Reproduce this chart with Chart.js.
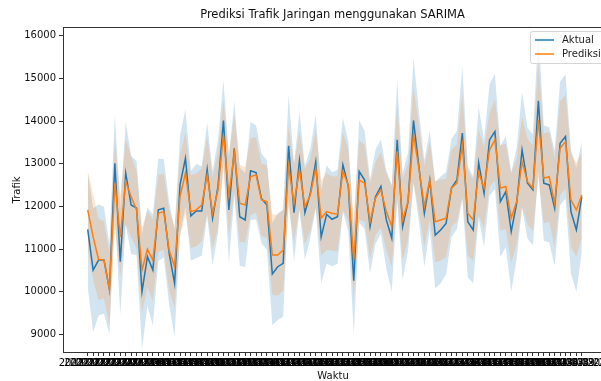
<!DOCTYPE html>
<html>
<head>
<meta charset="utf-8">
<script src="https://cdn.jsdelivr.net/npm/chart.js@4"></script>
<style>
  html, body { margin: 0; padding: 0; background: #fff; overflow: hidden; }
  #wrap { width: 601px; height: 381px; overflow: hidden; }
</style>
</head>
<body>
<div id="wrap"><canvas id="chart" width="612" height="381"></canvas></div>
<script>
// data
const startDate = "2022-12-21";
const aktual = [11465,10510,10745,10745,10060,13010,10705,12780,12035,11960,
  10005,10825,10510,11920,11960,10900,10200,12505,13130,11780,
  11895,11895,12870,11725,12470,14015,11920,13365,11760,11685,
  12835,12795,12190,12035,10420,10590,10670,13420,11855,13075,
  11855,12310,13050,11290,11815,11700,11760,12975,12470,10260,
  12820,12620,11530,12230,12470,11685,11255,13560,11530,12115,
  14015,12935,11840,12620,11330,11450,11605,12430,12620,13720,
  11645,11450,13030,12310,13560,13755,12115,12350,11410,12075,
  13325,12545,12390,14475,12545,12505,11960,13480,13640,11880,
  11450,12230];
const prediksi = [11920,11290,10760,10750,10060,12545,11290,12580,12230,11920,
  10510,11000,10745,11840,11880,10980,10590,12230,12780,11880,
  11920,12035,12740,11840,12390,13680,12270,13250,12075,12035,
  12700,12740,12155,12115,10865,10865,10980,12935,12075,12855,
  12000,12270,12895,11725,11880,11840,11820,12820,12505,10745,
  12620,12545,11645,12190,12390,11880,11530,13290,11685,12115,
  13680,12895,12000,12620,11645,11685,11725,12430,12545,13445,
  11840,11685,12795,12430,13325,13560,12430,12470,11725,12115,
  13050,12580,12430,14030,12660,12700,12075,13365,13520,12155,
  11920,12270];
// half width of the shaded confidence bands
const aktualCI = [1350,1450,1300,1250,1050,1150,1250,1200,1150,1100,
  1350,1150,1300,1200,1150,1200,1250,1150,1150,1050,
  1100,1050,1100,1100,1100,950,1250,1100,1150,1100,
  1150,1100,1050,1050,1200,1250,1250,1200,1150,1150,
  1100,1050,1100,1100,1150,1100,1100,1100,1050,1250,
  1200,1150,1100,1100,1100,1150,1250,1400,1250,1150,
  1450,1300,1250,1150,1250,1250,1200,1150,1150,1550,
  1300,1250,1300,1250,1300,1350,1300,1300,1400,1300,
  1350,1300,1300,1650,1350,1350,1350,1450,1450,1450,
  1450,1300];
const prediksiCI = [920,1000,950,900,850,1050,950,1000,950,900,
  1000,900,950,900,900,950,950,950,950,850,
  850,850,900,850,900,820,950,900,900,880,
  900,880,850,850,940,950,950,950,900,920,
  880,850,900,880,900,870,880,900,850,940,
  930,900,880,860,880,900,950,1100,950,900,
  1130,1000,950,900,950,950,920,900,900,1210,
  1000,950,1000,950,860,950,1000,1000,1050,1000,
  1050,1000,1000,1350,1050,1050,1050,1100,1100,1100,
  1100,1000];
const yTicks = [9000,10000,11000,12000,13000,14000,15000,16000];

// one date label per point
const dates = [];
const d0 = new Date(startDate + "T00:00:00Z");
for (let i = 0; i < aktual.length; i++) {
  const d = new Date(d0.getTime() + i * 86400000);
  dates.push(d.toISOString().slice(0, 10));
}

const BLUE = "#1f77b4";
const ORANGE = "#ff7f0e";
const FONT = "'DejaVu Sans', sans-serif";

const pts = arr => arr.map((v, i) => ({ x: i, y: v }));
const band = (arr, hw, sign) => arr.map((v, i) => ({ x: i, y: v + sign * hw[i] }));

// title, axis titles, frame and legend drawn like matplotlib
const extras = {
  id: "extras",
  afterDraw(chart) {
    const { ctx, chartArea: a } = chart;
    ctx.save();
    ctx.strokeStyle = "#333";
    ctx.lineWidth = 1;
    ctx.strokeRect(Math.round(a.left) + 0.5, Math.round(a.top) + 0.5,
      Math.round(a.right - a.left), Math.round(a.bottom - a.top));

    ctx.fillStyle = "#111";
    ctx.textAlign = "center";
    ctx.textBaseline = "middle";
    ctx.font = "11.5px " + FONT;
    ctx.fillText("Prediksi Trafik Jaringan menggunakan SARIMA", 332.5, 15);
    ctx.font = "10px " + FONT;
    ctx.fillText("Waktu", 333, 376);
    ctx.translate(17, 190);
    ctx.rotate(-Math.PI / 2);
    ctx.fillText("Trafik", 0, 0);
    ctx.setTransform(1, 0, 0, 1, 0, 0);

    // legend
    const bx = 530.5, by = 31.5, bw = 82, bh = 32;
    ctx.fillStyle = "rgba(255,255,255,0.8)";
    ctx.strokeStyle = "#d5d5d5";
    ctx.beginPath();
    ctx.roundRect(bx, by, bw, bh, 2);
    ctx.fill();
    ctx.stroke();
    const items = [["Aktual", BLUE, 40], ["Prediksi", ORANGE, 54]];
    ctx.lineWidth = 1.5;
    ctx.textAlign = "left";
    for (const [label, col, y] of items) {
      ctx.strokeStyle = col;
      ctx.beginPath();
      ctx.moveTo(535, y);
      ctx.lineTo(554, y);
      ctx.stroke();
      ctx.fillStyle = "#222";
      ctx.fillText(label, 562, y);
    }
    ctx.restore();
  }
};

new Chart(document.getElementById("chart"), {
  type: "line",
  data: {
    datasets: [
      { label: "Prediksi", data: pts(prediksi), borderColor: ORANGE, borderWidth: 1.5, order: 0 },
      { label: "Aktual", data: pts(aktual), borderColor: BLUE, borderWidth: 1.5, order: 1 },
      { label: "p_lo", data: band(prediksi, prediksiCI, -1), borderWidth: 0, order: 2 },
      { label: "p_hi", data: band(prediksi, prediksiCI, 1), borderWidth: 0, order: 2,
        fill: "-1", backgroundColor: "rgba(255,127,14,0.2)" },
      { label: "a_lo", data: band(aktual, aktualCI, -1), borderWidth: 0, order: 3 },
      { label: "a_hi", data: band(aktual, aktualCI, 1), borderWidth: 0, order: 3,
        fill: "-1", backgroundColor: "rgba(31,119,180,0.2)" }
    ]
  },
  options: {
    responsive: false,
    animation: false,
    devicePixelRatio: 1,
    layout: { padding: { top: 27, right: 3, left: 0, bottom: 0 } },
    elements: { point: { radius: 0 }, line: { tension: 0 } },
    plugins: { legend: { display: false }, title: { display: false }, tooltip: { enabled: false } },
    scales: {
      x: {
        type: "linear",
        min: -4.55,
        max: 95.55,
        afterFit: s => { s.height = 29; },
        afterBuildTicks: s => { s.ticks = dates.map((_, i) => ({ value: i })); },
        border: { display: false },
        grid: { drawOnChartArea: false, drawTicks: true, tickLength: 4, color: "#333" },
        ticks: {
          autoSkip: false, maxRotation: 0, minRotation: 0, padding: 1,
          color: "#000", font: { family: FONT, size: 10 },
          callback: v => dates[v]
        }
      },
      y: {
        min: 8592,
        max: 16204,
        afterFit: s => { s.width = 63; },
        afterBuildTicks: s => { s.ticks = yTicks.map(v => ({ value: v })); },
        border: { display: false },
        grid: { drawOnChartArea: false, drawTicks: true, tickLength: 4, color: "#333" },
        ticks: { padding: 3, color: "#111", font: { family: FONT, size: 10 }, callback: v => String(v) }
      }
    }
  },
  plugins: [extras]
});
</script>
</body>
</html>
